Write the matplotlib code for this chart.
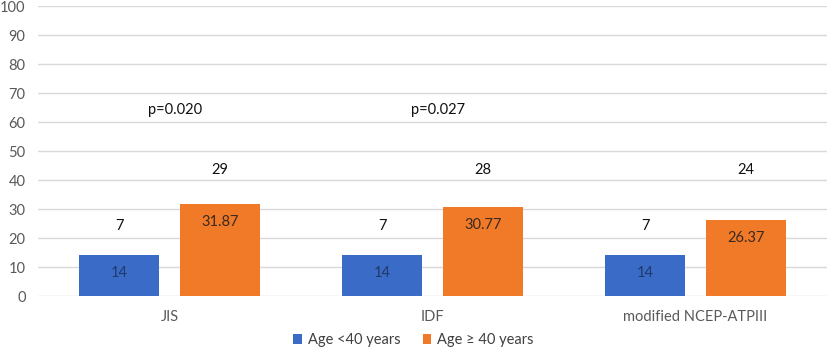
import matplotlib.pyplot as plt
import numpy as np

plt.rcParams['font.family'] = ['Lato', 'DejaVu Sans']

categories = ['JIS', 'IDF', 'modified NCEP-ATPIII']
young_pct = [14, 14, 14]
old_pct = [31.87, 30.77, 26.37]
young_n = [7, 7, 7]
old_n = [29, 28, 24]
p_values = ['p=0.020', 'p=0.027', '']
series_names = ['Age <40 years', 'Age \u2265 40 years']

fig = plt.figure(figsize=(8.27, 3.55), dpi=100)
ax = fig.add_axes([0.046, 0.166, 0.954, 0.817])

x = np.arange(len(categories))
w = 0.305
off = 0.192
b1 = ax.bar(x - off, young_pct, w, color='#3A6BC6', label=series_names[0], zorder=3)
b2 = ax.bar(x + off, old_pct, w, color='#F07A28', label=series_names[1], zorder=3)

# values inside the bars
for rect, v in zip(b1, young_pct):
    ax.annotate(f'{v:g}', (rect.get_x() + rect.get_width() / 2, v), xytext=(0, -18),
                textcoords='offset pixels', ha='center', va='center',
                fontsize=10.5, color='#1F3A6B', zorder=4)
for rect, v in zip(b2, old_pct):
    ax.annotate(f'{v:g}', (rect.get_x() + rect.get_width() / 2, v), xytext=(0, -18),
                textcoords='offset pixels', ha='center', va='center',
                fontsize=10.5, color='#3A2A1F', zorder=4)

# counts above and p-values
for i in range(len(categories)):
    ax.text(x[i] - off, 24, str(young_n[i]), ha='center', va='center', fontsize=10.5, color='#111111')
    ax.text(x[i] + off, 43.6, str(old_n[i]), ha='center', va='center', fontsize=10.5, color='#111111')
    if p_values[i]:
        ax.text(x[i] + 0.02, 64, p_values[i], ha='center', va='center', fontsize=10.5, color='#111111')

ax.set_xlim(-0.5, 2.5)
ax.set_ylim(0, 100)
ax.set_yticks(range(0, 101, 10))
ax.yaxis.grid(True, color='#D9D9D9', linewidth=1, zorder=0)
ax.set_axisbelow(True)
for s in ax.spines.values():
    s.set_visible(False)
ax.tick_params(axis='both', length=0, labelsize=10.5, colors='#595959')
ax.tick_params(axis='y', pad=9)
ax.set_xticks(x)
ax.set_xticklabels(categories)
ax.tick_params(axis='x', pad=10)

fig.legend(loc='lower center', bbox_to_anchor=(0.5, -0.015), ncol=2, frameon=False,
           fontsize=10.5, handlelength=0.6, handleheight=0.6, columnspacing=1.5,
           handletextpad=0.4, labelcolor='#404040')

fig.savefig('out.png', dpi=100)
